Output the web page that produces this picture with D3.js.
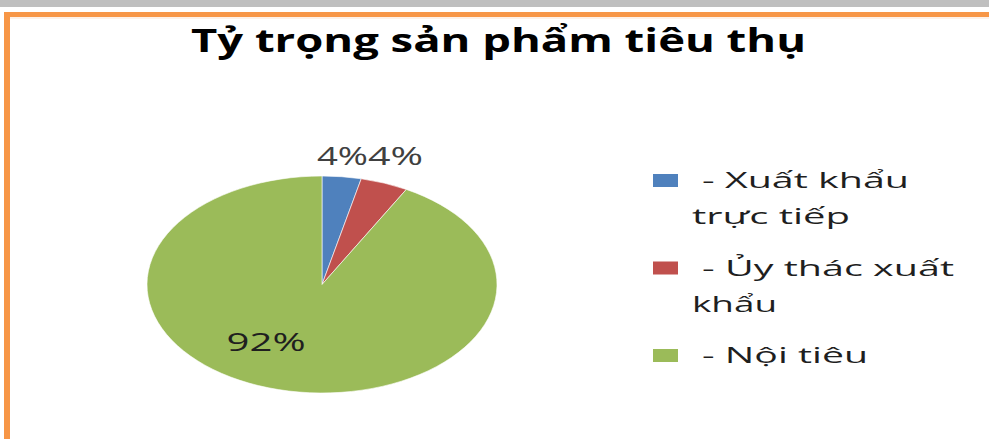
<!DOCTYPE html>
<html><head><meta charset="utf-8">
<script src="https://cdn.jsdelivr.net/npm/d3@7"></script>
<style>body{margin:0;background:#fff;overflow:hidden} svg{display:block}</style>
</head><body>
<svg id="c" width="989" height="439"></svg>
<script>
// ---- data ----
const title = "Tỷ trọng sản phẩm tiêu thụ";
const categories = ["- Xuất khẩu trực tiếp", "- Ủy thác xuất khẩu", "- Nội tiêu"];
const legendLines = [["- Xuất khẩu", "trực tiếp"], ["- Ủy thác xuất", "khẩu"], ["- Nội tiêu"]];
const values = [3.6, 4.4, 92];
const valueLabels = ["4%", "4%", "92%"];
const colors = ["#4F81BD", "#C0504D", "#9BBB59"];

// ---- layout ----
const W = 989, H = 439;
const svg = d3.select("#c");
const font = "'Open Sans', 'Noto Sans', sans-serif";

// frame
svg.append("rect").attr("x", 0).attr("y", 0).attr("width", W).attr("height", 7).attr("fill", "#bfbfbf");
svg.append("rect").attr("x", 4).attr("y", 12).attr("width", W - 4).attr("height", 5).attr("fill", "#f79646");
svg.append("rect").attr("x", 4).attr("y", 12).attr("width", 6).attr("height", H - 12).attr("fill", "#f79646");
svg.append("rect").attr("x", 10).attr("y", 17).attr("width", W - 10).attr("height", 2).attr("fill", "#fdf1e8");

// title
svg.append("text")
  .attr("x", 498.5).attr("y", 52)
  .attr("text-anchor", "middle")
  .attr("font-family", font).attr("font-weight", 700).attr("font-size", 32)
  .attr("fill", "#000")
  .attr("textLength", 615).attr("lengthAdjust", "spacingAndGlyphs")
  .text(title);

// pie (stretched horizontally like the reference)
const cx = 322, cy = 284.5, ry = 108.5, rx = 175;
const sx = rx / ry;
const pie = d3.pie().sort(null).value(d => d)(values);
const arc = d3.arc().innerRadius(0).outerRadius(ry);
const g = svg.append("g").attr("transform", `translate(${cx},${cy}) scale(${sx},1)`);
g.selectAll("path").data(pie).join("path")
  .attr("d", arc)
  .attr("fill", (d, i) => colors[i])
  .attr("stroke", "#fff").attr("stroke-width", 0.6).attr("vector-effect", "non-scaling-stroke");

// labels
const labelW = [51, 55, 79];
const outsideBaseline = cy - ry - 11.5;
let prevRight = -Infinity;
pie.forEach((d, i) => {
  const a = (d.startAngle + d.endAngle) / 2;
  const pct = d.value / d3.sum(values);
  let x, y, col;
  if (pct < 0.1) {
    let xc = cx + (rx + 6) * Math.sin(a);
    let left = xc - labelW[i] / 2;
    if (left < prevRight) left = prevRight;
    prevRight = left + labelW[i];
    x = left; y = outsideBaseline; col = "#404040";
  } else {
    const r = ry * 0.55;
    x = cx + r * sx * Math.sin(a) - 32 - labelW[i] / 2;
    y = cy - r * Math.cos(a) + 9;
    col = "#1f1f1f";
  }
  svg.append("text")
    .attr("x", x).attr("y", y)
    .attr("font-family", font).attr("font-size", 26)
    .attr("fill", col)
    .attr("textLength", labelW[i]).attr("lengthAdjust", "spacingAndGlyphs")
    .text(valueLabels[i]);
});

// legend
const legendX = 653, textX = 692, firstDx = 10;
const legendY0 = 180.5, legendStep = 87.5, lineH = 36;
const legendWidths = [[207, 158], [252, 85], [166]];
categories.forEach((c, i) => {
  const yc = legendY0 + i * legendStep;
  svg.append("rect").attr("x", legendX).attr("y", yc - 6.5).attr("width", 25).attr("height", 13).attr("fill", colors[i]);
  legendLines[i].forEach((line, j) => {
    svg.append("text")
      .attr("x", textX + (j === 0 ? firstDx : 0))
      .attr("y", yc + 7.5 + j * lineH)
      .attr("font-family", font).attr("font-size", 22)
      .attr("fill", "#1f1f1f")
      .attr("textLength", legendWidths[i][j]).attr("lengthAdjust", "spacingAndGlyphs")
      .text(line);
  });
});
</script>
</body></html>
